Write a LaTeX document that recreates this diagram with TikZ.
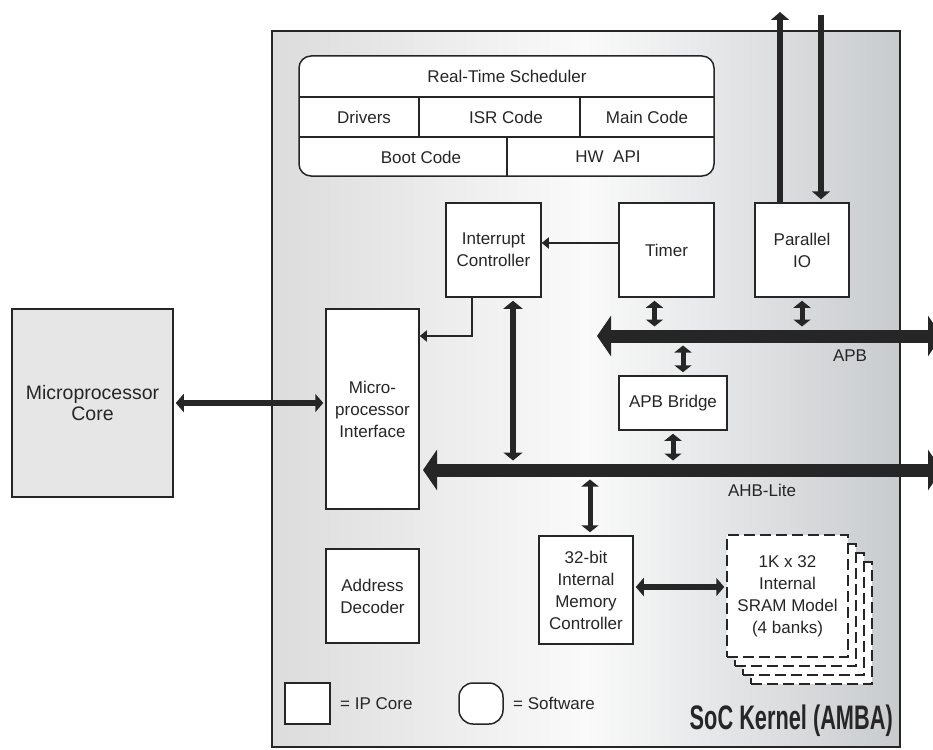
\documentclass[tikz,border=0pt]{standalone}
\usepackage{fontspec}
\setmainfont{Liberation Sans}
\newfontfamily\titlefont[FakeStretch=0.64]{Liberation Sans Bold}
\usetikzlibrary{arrows.meta}
\definecolor{socleft}{HTML}{DCDCDC}
\definecolor{socmid}{HTML}{FAFAFA}
\definecolor{socright}{HTML}{C8CBCE}
\definecolor{corefill}{HTML}{E6E6E6}

\begin{document}
\begin{tikzpicture}[x=1pt,y=-1pt,color=black!85,font=\fontsize{17}{22}\selectfont,
  box/.style={draw,line width=1.5pt,fill=white,align=center,inner sep=0pt},
  sram/.style={box,dash pattern=on 11pt off 5pt,minimum width=121pt,minimum height=122pt},
  bus/.style={line width=13pt,arrows={Triangle[width=40pt,length=14pt]-Triangle[width=40pt,length=14pt]}},
  link/.style={line width=6.5pt,>={Triangle[width=18pt,length=8pt]}},
  tap/.style={line width=5pt,<->,>={Triangle[width=17pt,length=7pt]},shorten <=3pt,shorten >=9.5pt},
  irq/.style={line width=2pt,-{Triangle[width=11pt,length=7pt]}}]
\useasboundingbox (0,0) rectangle (933,749);
\clip (0,0) rectangle (933,749);

\node[draw,line width=2pt,left color=socleft,right color=socright,middle color=socmid,
  minimum width=628pt,minimum height=716pt] (soc) at (586,389) {};

\node[box,rounded corners=12pt,minimum width=415pt,minimum height=120pt] (sched) at (506.5,116) {};
\draw[line width=1.5pt] (299,97) -- (714,97) (299,137) -- (714,137)
  (419,97) -- (419,137) (580,97) -- (580,137) (507,137) -- (507,176);
\node (rts) at (507,76) {Real-Time Scheduler};
\foreach \x/\y/\lab/\nm in {364/117/Drivers/drv,506/117/ISR Code/isr,647/117/Main Code/mainc,421/157/Boot Code/boot,608/157/HW\ \ API/hwapi}{
  \node (\nm) at (\x,\y) {\lab};
}

\node[box,fill=corefill,minimum width=161pt,minimum height=188pt,font=\fontsize{19.5}{21}\selectfont] (core) at (92.5,403) {Microprocessor\\Core};
\node[box,minimum width=93pt,minimum height=200pt] (mpi) at (372.5,409) {Micro-\\processor\\Interface};
\node[box,minimum width=95pt,minimum height=94pt] (intc) at (493.5,250) {Interrupt\\Controller};
\node[box,minimum width=95pt,minimum height=94pt] (timer) at (666.5,250) {Timer};
\node[box,minimum width=94pt,minimum height=94pt] (pio) at (802,250) {Parallel\\IO};
\node[box,minimum width=108pt,minimum height=54pt] (bridge) at (673,403) {APB Bridge};
\node[box,minimum width=93pt,minimum height=94pt] (adec) at (372.5,596) {Address\\Decoder};
\node[box,minimum width=94pt,minimum height=108pt] (memc) at (586,590) {32-bit\\Internal\\Memory\\Controller};
\foreach \d in {3,2,1}{
  \node[sram] (sram\d) at (787.5+8*\d,596+9*\d) {};
}
\node[sram] (sram) at (787.5,596) {1K x 32\\Internal\\SRAM Model\\(4 banks)};

\coordinate (apbL) at (597,336);
\coordinate (apbR) at (942,336);
\coordinate (ahbL) at (423,470);
\coordinate (ahbR) at (942,470);
\draw[bus] (apbL) -- (apbR);
\draw[bus] (ahbL) -- (ahbR);
\node (apblab) at (850,356) {APB};
\node (ahblab) at (762,490) {AHB-Lite};

\draw[tap] ([xshift=-12pt]timer.south) -- ([xshift=-12pt]timer.south |- apbL);
\draw[tap] (pio.south) -- (pio.south |- apbL);
\draw[tap] ([xshift=10pt]bridge.north) -- ([xshift=10pt]bridge.north |- apbL);
\draw[tap] (bridge.south) -- (bridge.south |- ahbL);
\draw[tap] ([xshift=4pt]memc.north) -- ([xshift=4pt]memc.north |- ahbL);
\draw[tap,line width=6.5pt,>={Triangle[width=19pt,length=8pt]}] ([xshift=19.5pt]intc.south) -- ([xshift=19.5pt]intc.south |- ahbL);

\draw[irq] ([yshift=7pt]timer.west) -- ([yshift=7pt]intc.east);
\draw[irq] ([xshift=-21.5pt]intc.south) |- (mpi.east |- apbL);

\draw[link,<->,shorten <=2pt,shorten >=2pt] (core.east) -- (core.east -| mpi.west);
\draw[link,<->,shorten <=2pt,shorten >=2pt] ([yshift=3pt]memc.east) -- ([yshift=3pt]memc.east -| sram.west);

\coordinate (pioout) at (780,12);
\coordinate (pioin) at (821,15);
\draw[link,->] ([xshift=-22pt]pio.north) -- (pioout);
\draw[link,->,shorten >=3pt] (pioin) -- ([xshift=19pt]pio.north);

\node[box,minimum width=45pt,minimum height=41pt] (ipkey) at (307.5,703.5) {};
\node[anchor=west,inner sep=0pt] (iptext) at (340,703.5) {= IP Core};
\node[box,rounded corners=14pt,minimum width=44pt,minimum height=41pt] (swkey) at (481,703.5) {};
\node[anchor=west,inner sep=0pt] (swtext) at (513,703.5) {= Software};
\node[anchor=east,inner sep=0pt,font=\titlefont\fontsize{34}{38}\selectfont] (kernel) at (893,721) {SoC Kernel (AMBA)};
\end{tikzpicture}
\end{document}
